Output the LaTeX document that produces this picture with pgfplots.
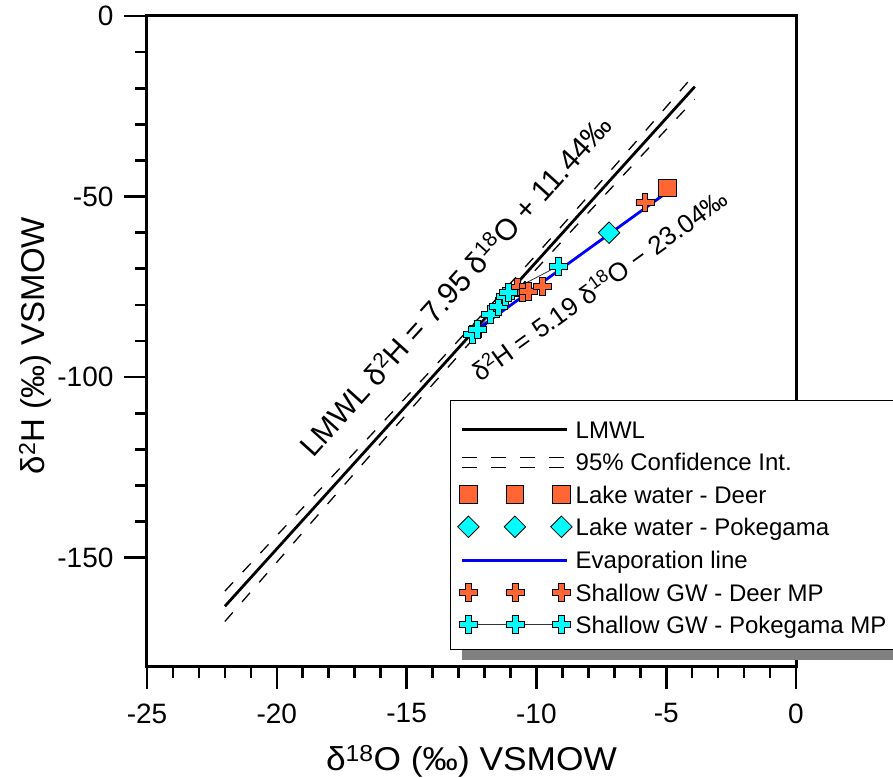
\documentclass[border=0pt]{standalone}
\usepackage{fontspec}
\setmainfont{Liberation Sans}
\usepackage{pgfplots}
\pgfplotsset{compat=1.18}

\definecolor{lorange}{RGB}{255,102,51}
\definecolor{lcyan}{RGB}{0,255,255}

\pgfdeclareplotmark{fatplus}{%
  \pgfpathmoveto{\pgfqpoint{-0.33\pgfplotmarksize}{\pgfplotmarksize}}%
  \pgfpathlineto{\pgfqpoint{0.33\pgfplotmarksize}{\pgfplotmarksize}}%
  \pgfpathlineto{\pgfqpoint{0.33\pgfplotmarksize}{0.33\pgfplotmarksize}}%
  \pgfpathlineto{\pgfqpoint{\pgfplotmarksize}{0.33\pgfplotmarksize}}%
  \pgfpathlineto{\pgfqpoint{\pgfplotmarksize}{-0.33\pgfplotmarksize}}%
  \pgfpathlineto{\pgfqpoint{0.33\pgfplotmarksize}{-0.33\pgfplotmarksize}}%
  \pgfpathlineto{\pgfqpoint{0.33\pgfplotmarksize}{-\pgfplotmarksize}}%
  \pgfpathlineto{\pgfqpoint{-0.33\pgfplotmarksize}{-\pgfplotmarksize}}%
  \pgfpathlineto{\pgfqpoint{-0.33\pgfplotmarksize}{-0.33\pgfplotmarksize}}%
  \pgfpathlineto{\pgfqpoint{-\pgfplotmarksize}{-0.33\pgfplotmarksize}}%
  \pgfpathlineto{\pgfqpoint{-\pgfplotmarksize}{0.33\pgfplotmarksize}}%
  \pgfpathlineto{\pgfqpoint{-0.33\pgfplotmarksize}{0.33\pgfplotmarksize}}%
  \pgfpathclose
  \pgfusepathqfillstroke
}

\pgfplotsset{
  legline/.style={legend image code/.code={\draw[##1] (-6pt,-2.4pt) -- (99pt,-2.4pt);}},
  legdash/.style={legend image code/.code={%
     \draw[##1,dash pattern=on 15pt off 14pt] (-6pt,2.6pt) -- (99pt,2.6pt);
     \draw[##1,dash pattern=on 15pt off 14pt] (-6pt,-7.4pt) -- (99pt,-7.4pt);}},
  legmarks/.style={legend image code/.code={\draw[##1,only marks] plot coordinates {(0pt,-2.4pt) (46.5pt,-2.4pt) (93pt,-2.4pt)};}},
  legmarksline/.style={legend image code/.code={\draw[##1] plot coordinates {(0pt,-2.4pt) (46.5pt,-2.4pt) (93pt,-2.4pt)};}},
}

\begin{document}
\begin{tikzpicture}
\begin{axis}[
  at={(0pt,0pt)}, anchor=south west,
  scale only axis, width=649pt, height=650pt,
  xmin=-25, xmax=0, ymin=-180, ymax=0,
  clip=false,
  xtick={-25,-20,-15,-10,-5,0}, minor x tick num=4,
  ytick={-150,-100,-50,0}, minor y tick num=4,
  xtick pos=left, ytick pos=left,
  tick align=outside,
  major tick length=23pt, minor tick length=12pt,
  tick style={black, line width=2.6pt},
  axis line style={line width=3pt},
  /pgf/number format/assume math mode=true,
  tick label style={font=\fontsize{28}{28}\selectfont},
  xticklabel style={yshift=-11pt},
  yticklabel style={xshift=-7pt},
  xlabel={δ\textsuperscript{18}O (‰) VSMOW},
  ylabel={δ\textsuperscript{2}H (‰) VSMOW},
  label style={font=\fontsize{33}{33}\selectfont},
  xlabel style={at={(axis description cs:0.5,-0.146)}, anchor=center, xscale=1.07},
  ylabel style={at={(axis description cs:-0.1726,0.493)}, anchor=center},
  legend style={at={(axis description cs:0.467,0.0246)}, anchor=south west,
    draw=black, line width=1.2pt, fill=white,
    font=\fontsize{24}{24}\selectfont,
    nodes={inner sep=1pt, text height=22pt, text depth=0pt},
    row sep=8.3pt, column sep=2.5pt,
    inner xsep=7pt, inner ysep=15pt},
  legend cell align=left,
]
% LMWL
\addplot[black, line width=2.8pt, legline]
  coordinates {(-22,-163.46) (-3.9,-19.57)};
\addlegendentry{LMWL}
% 95% CI
\addplot[black, line width=1.3pt, dash pattern=on 12pt off 14pt, legdash]
  coordinates {(-22,-159.26) (-20,-143.86) (-18,-128.56) (-16,-113.16) (-14,-97.66)
               (-12,-81.96) (-10,-66.06) (-8,-49.86) (-6,-33.46) (-3.9,-16.07)};
\addlegendentry{95\% Confidence Int.}
\addplot[black, line width=1.3pt, dash pattern=on 12pt off 14pt, forget plot]
  coordinates {(-22,-167.66) (-20,-151.26) (-18,-134.76) (-16,-118.36) (-14,-102.06)
               (-12,-85.96) (-10,-70.06) (-8,-54.46) (-6,-39.06) (-3.9,-23.07)};
% Lake water Deer
\addplot[only marks, mark=square*, mark size=8.8pt,
  mark options={fill=lorange, draw=black, line width=0.8pt}, legmarks]
  coordinates {(-4.95,-47.6)};
\addlegendentry{Lake water - Deer}
% Lake water Pokegama
\addplot[only marks, mark=square*, mark size=7.6pt,
  mark options={fill=lcyan, draw=black, line width=0.8pt, rotate=45}, legmarks]
  coordinates {(-7.2,-60.0)};
\addlegendentry{Lake water - Pokegama}
% Evaporation line
\addplot[blue, line width=2.8pt, legline]
  coordinates {(-12.6,-88.43) (-4.9,-48.47)};
\addlegendentry{Evaporation line}
% Shallow GW Deer MP
\addplot[only marks, mark=fatplus, mark size=9pt,
  mark options={fill=lorange, draw=black, line width=0.8pt}, legmarks]
  coordinates {(-10.75,-75.1) (-10.55,-76.5) (-10.32,-76.2) (-9.78,-74.9) (-5.82,-51.7)};
\addlegendentry{Shallow GW - Deer MP}
% Shallow GW Pokegama MP
\addplot[black!80, line width=0.8pt, mark=fatplus, mark size=9pt,
  mark options={fill=lcyan, draw=black, line width=0.8pt}, legmarksline]
  coordinates {(-12.48,-88.1) (-12.29,-86.7) (-11.79,-82.6) (-11.48,-80.4)
               (-11.21,-77.6) (-11.09,-76.5) (-9.17,-69.3)};
\addlegendentry{Shallow GW - Pokegama MP}

% legend shadow
\fill[black!50] (axis description cs:0.4854,0.00923) rectangle (axis description cs:1.3,0.3908);

\node[rotate=47.9, font=\fontsize{30}{30}\selectfont] at (axis cs:-13.14,-74.5)
  {LMWL δ\textsuperscript{2}H = 7.95 δ\textsuperscript{18}O + 11.44‰};
\node[rotate=35.8, font=\fontsize{26}{26}\selectfont] at (axis cs:-7.59,-74.3)
  {δ\textsuperscript{2}H = 5.19 δ\textsuperscript{18}O − 23.04‰};
\end{axis}
\pgfresetboundingbox
\path[use as bounding box] (-147pt,-111pt) rectangle (746pt,666pt);
\end{tikzpicture}
\end{document}
